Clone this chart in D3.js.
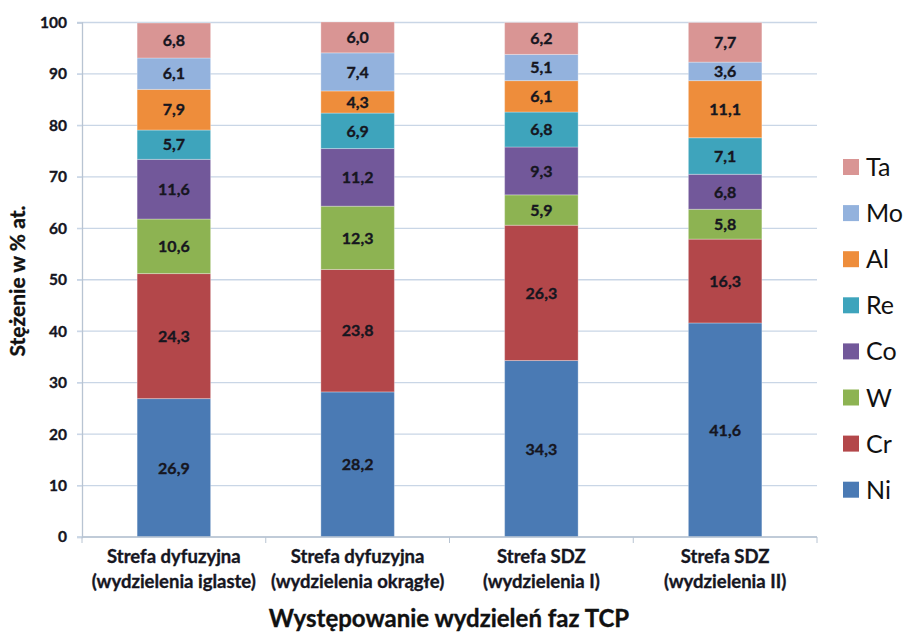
<!DOCTYPE html>
<html>
<head>
<meta charset="utf-8">
<script src="https://cdn.jsdelivr.net/npm/d3@7"></script>
<style>
  html, body { margin: 0; padding: 0; background: #fff; }
  svg text { font-family: Lato, "Open Sans", "Noto Sans", sans-serif; }
  .heavy { stroke: currentColor; stroke-width: 0.35px; }
</style>
</head>
<body>
<svg id="chart" width="918" height="639"></svg>
<script>
// Zones (two-line category labels)
const categories = [
  ["Strefa dyfuzyjna", "(wydzielenia iglaste)"],
  ["Strefa dyfuzyjna", "(wydzielenia okrągłe)"],
  ["Strefa SDZ", "(wydzielenia I)"],
  ["Strefa SDZ", "(wydzielenia II)"]
];

// Element concentrations, at.% (stacked bottom to top)
const elements = ["Ni", "Cr", "W", "Co", "Re", "Al", "Mo", "Ta"];
const Ni = [26.9, 28.2, 34.3, 41.6];
const Cr = [24.3, 23.8, 26.3, 16.3];
const W  = [10.6, 12.3, 5.9, 5.8];
const Co = [11.6, 11.2, 9.3, 6.8];
const Re = [5.7, 6.9, 6.8, 7.1];
const Al = [7.9, 4.3, 6.1, 11.1];
const Mo = [6.1, 7.4, 5.1, 3.6];
const Ta = [6.8, 6.0, 6.2, 7.7];
const yTicks = [0, 10, 20, 30, 40, 50, 60, 70, 80, 90, 100];

const colors = {
  Ni: "#4a7ab4", Cr: "#b3474a", W: "#8db352", Co: "#72589a",
  Re: "#3ea4bc", Al: "#ee8d3b", Mo: "#93b2dd", Ta: "#d99594"
};

const series = { Ni, Cr, W, Co, Re, Al, Mo, Ta };
const table = categories.map((c, i) => {
  const row = { idx: i };
  elements.forEach(e => row[e] = series[e][i]);
  return row;
});

const svg = d3.select("#chart");
const margin = { left: 82, right: 101, top: 22.5, bottom: 102 };
const W_ = 918, H_ = 639;
const x = d3.scaleBand().domain(d3.range(categories.length))
  .range([margin.left, W_ - margin.right]).paddingInner(0.6).paddingOuter(0.3);
const y = d3.scaleLinear().domain([0, 100]).range([H_ - margin.bottom, margin.top]);
const ink = "#16161f";

// Gridlines
svg.append("g").selectAll("line").data(yTicks).join("line")
  .attr("x1", margin.left - 5).attr("x2", W_ - margin.right)
  .attr("y1", d => y(d)).attr("y2", d => y(d))
  .attr("stroke", "#c9d6e6").attr("stroke-width", 1.3);

// Y-axis
const yAxis = svg.append("g").attr("transform", `translate(${margin.left},0)`)
  .call(d3.axisLeft(y).tickValues(yTicks).tickSize(5).tickPadding(10));
yAxis.select(".domain").attr("stroke", "#b8c4d2").attr("stroke-width", 1.3);
yAxis.selectAll(".tick line").attr("stroke", "#c9d6e6");
yAxis.selectAll("text").attr("font-size", 15.5).attr("font-weight", "bold")
  .attr("fill", ink).attr("color", ink).attr("class", "heavy");

// Stacked bars
const stack = d3.stack().keys(elements)(table);
const layers = svg.append("g").selectAll("g").data(stack).join("g")
  .attr("fill", d => colors[d.key]);
layers.selectAll("rect").data(d => d).join("rect")
  .attr("x", d => x(d.data.idx))
  .attr("width", x.bandwidth())
  .attr("y", d => y(d[1]))
  .attr("height", d => y(d[0]) - y(d[1]))
  .attr("stroke", "rgba(255,255,255,0.3)").attr("stroke-width", 1);

// Value labels
const fmt = v => v.toFixed(1).replace(".", ",");
const labels = svg.append("g");
stack.forEach(layer => {
  layer.forEach(d => {
    labels.append("text")
      .attr("x", x(d.data.idx) + x.bandwidth() / 2)
      .attr("y", (y(d[0]) + y(d[1])) / 2)
      .attr("dy", "0.36em")
      .attr("text-anchor", "middle")
      .attr("font-size", 16).attr("font-weight", "bold")
      .attr("fill", ink).attr("color", ink).attr("class", "heavy")
      .text(fmt(d.data[layer.key]));
  });
});

// X-axis
const xAxisY = y(0);
svg.append("line").attr("x1", margin.left).attr("x2", W_ - margin.right)
  .attr("y1", xAxisY).attr("y2", xAxisY).attr("stroke", "#b8c4d2").attr("stroke-width", 1.3);
const bounds = d3.range(categories.length + 1).map(i => margin.left + i * (W_ - margin.left - margin.right) / categories.length);
svg.append("g").selectAll("line").data(bounds).join("line")
  .attr("x1", d => d).attr("x2", d => d)
  .attr("y1", xAxisY).attr("y2", xAxisY + 6)
  .attr("stroke", "#b8c4d2");

const catG = svg.append("g");
categories.forEach((c, i) => {
  const cx = x(i) + x.bandwidth() / 2;
  const t = catG.append("text")
    .attr("x", cx).attr("y", 563)
    .attr("text-anchor", "middle").attr("font-size", 18.5).attr("font-weight", "bold")
    .attr("fill", ink).attr("color", ink).attr("class", "heavy");
  c.forEach((line, k) => t.append("tspan").attr("x", cx).attr("dy", k === 0 ? 0 : 25).text(line));
});

// Axis titles
svg.append("text").attr("x", 449).attr("y", 627).attr("text-anchor", "middle")
  .attr("font-size", 24).attr("font-weight", "bold")
  .attr("fill", "#111").attr("color", "#111").attr("class", "heavy")
  .text("Występowanie wydzieleń faz TCP");
svg.append("text").attr("transform", `translate(25,281) rotate(-90)`)
  .attr("text-anchor", "middle").attr("font-size", 21).attr("font-weight", "bold")
  .attr("fill", "#111").attr("color", "#111").attr("class", "heavy")
  .text("Stężenie w % at.");

// Legend (top entry is the top of the stack)
const legendOrder = elements.slice().reverse();
const lg = svg.append("g").selectAll("g").data(legendOrder).join("g")
  .attr("transform", (d, i) => `translate(843,${167 + i * 46.1})`);
lg.append("rect").attr("x", 0).attr("y", -8).attr("width", 16).attr("height", 16)
  .attr("fill", d => colors[d]);
lg.append("text").attr("x", 23).attr("dy", "0.36em")
  .attr("font-size", 25).attr("fill", "#111").text(d => d);
</script>
</body>
</html>
